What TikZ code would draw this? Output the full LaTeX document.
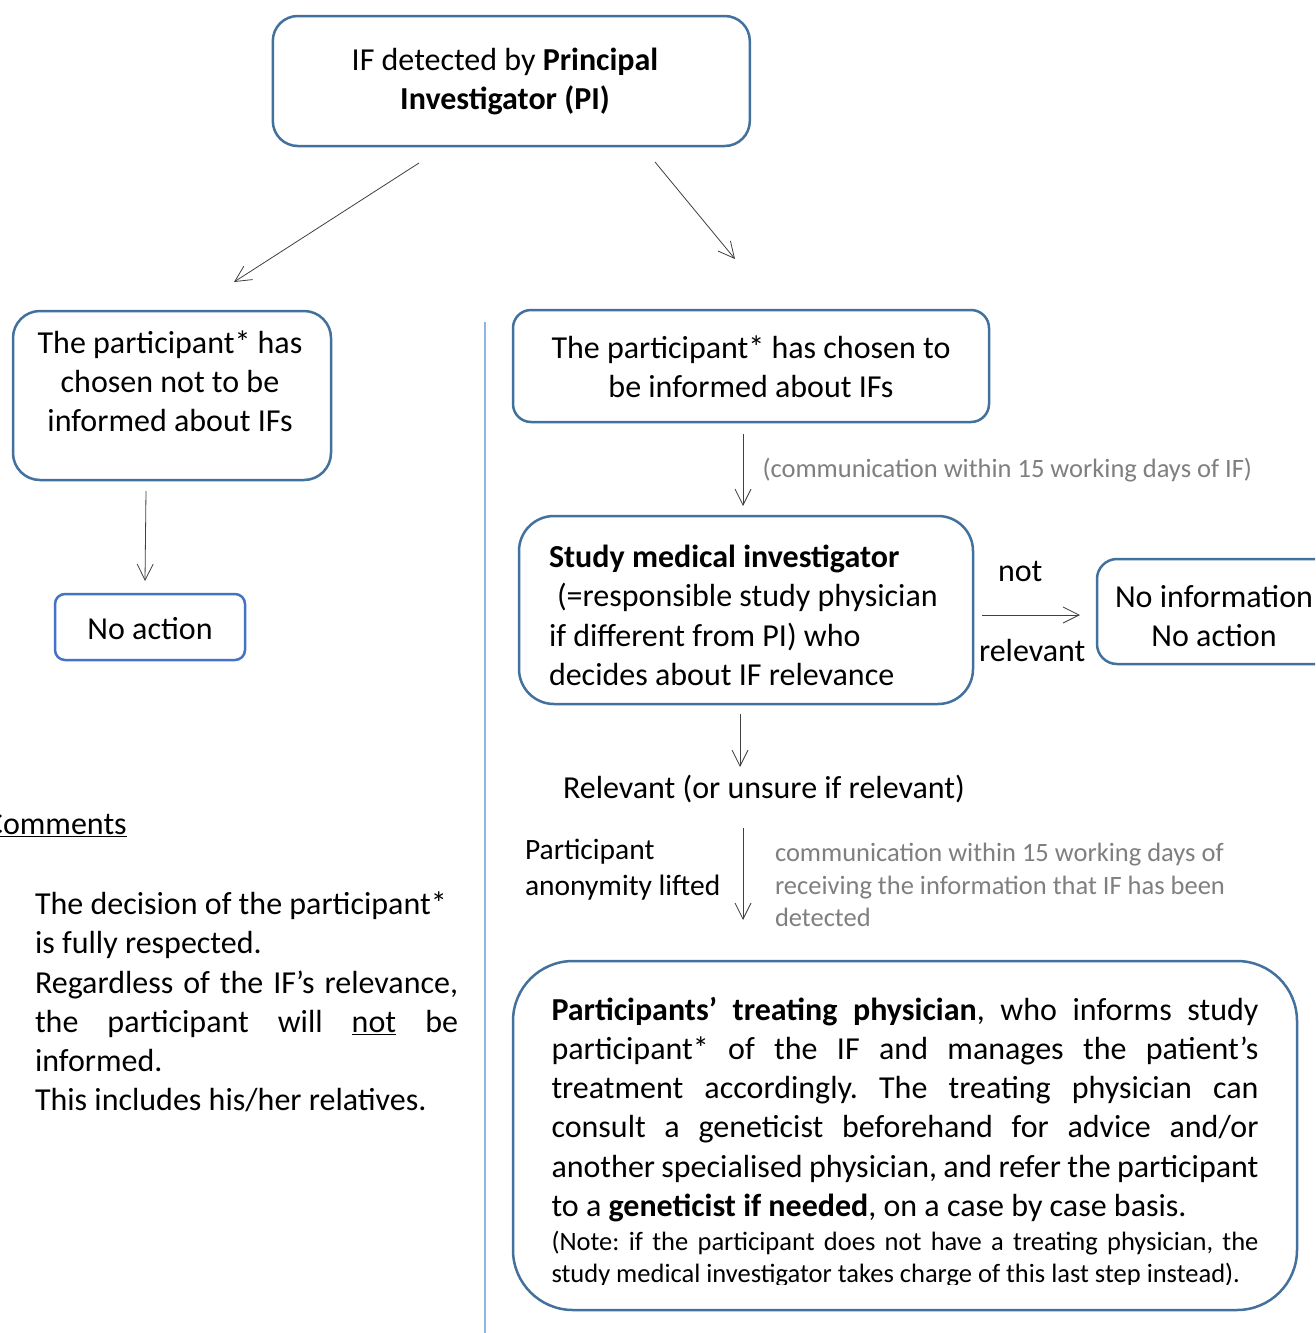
\documentclass[tikz,border=0pt]{standalone}
\usepackage{fontspec}
\setmainfont{Carlito}
\usetikzlibrary{arrows.meta}
\definecolor{boxblue}{RGB}{65,113,156}
\definecolor{brightblue}{RGB}{68,114,196}
\definecolor{sepblue}{RGB}{141,180,226}
\definecolor{commgray}{RGB}{127,127,127}
\definecolor{arrowgray}{RGB}{64,64,64}
\newcommand\fs[2]{\fontsize{#1}{#2}\selectfont}
\setlength\parindent{0pt}
\setlength\parskip{0pt}
\hyphenpenalty=10000
\exhyphenpenalty=10000
\tolerance=9999
\emergencystretch=20pt
\frenchspacing
\begin{document}
\frenchspacing
\begin{tikzpicture}[x=1pt,y=-1pt,
  box/.style={draw=boxblue, line width=2.5pt, rounded corners=#1, inner sep=0pt},
  txt/.style={inner sep=0pt, outer sep=0pt, font=\fs{32}{39.2}\frenchspacing},
  small/.style={inner sep=0pt, outer sep=0pt, font=\fs{26.5}{32.4}\frenchspacing, text=commgray},
  conn/.style={draw=arrowgray, line width=0.8pt, -{Straight Barb[length=16pt,width=16pt]}},
  sepline/.style={draw=sepblue, line width=2pt}]
\fill[white] (0,0) rectangle (1315,1333);
\clip (0,0) rectangle (1315,1333);
\useasboundingbox (0,0) rectangle (1315,1333);

% boxes
\node[box=25pt, minimum width=477pt, minimum height=130pt] (topbox) at (511.3,81) {};
\node[box=27pt, minimum width=318pt, minimum height=169pt] (leftbox) at (172,395.5) {};
\node[box=10pt, draw=brightblue, minimum width=190pt, minimum height=66pt] (noaction) at (150,627) {};
\node[box=18pt, minimum width=476pt, minimum height=112pt] (chosenbox) at (751,366) {};
\node[box=35pt, minimum width=454pt, minimum height=188pt] (studybox) at (746,610) {};
\node[box=20pt, minimum width=240pt, minimum height=105pt] (noinfobox) at (1217,611.5) {};
\node[box=60pt, minimum width=784pt, minimum height=349pt] (treatbox) at (905,1135.5) {};

% box texts
\node[txt, anchor=north, align=center] (toptxt) at (505,70.5-27.44)
  {\strut IF detected by \textbf{Principal}\\\textbf{Investigator (PI)}};
\node[txt, anchor=north, align=center] (lefttxt) at (170,353-27.44)
  {\strut The participant* has\\chosen not to be\\informed about IFs};
\node[txt, anchor=base] (noactiontxt) at (150,639) {No action};
\node[txt, anchor=north, align=center] (chosentxt) at (751,358-27.44)
  {\strut The participant* has chosen to\\be informed about IFs};
\node[txt, anchor=north west, align=left] (studytxt) at (549,567.7-27.44)
  {\strut\textbf{Study medical investigator}\\\hspace{0.25em}(=responsible study physician\\if different from PI) who\\decides about IF relevance};
\node[txt, anchor=north, align=center] (noinfotxt) at (1214,607-27.44)
  {\strut No information\\No action};

% labels
\node[small, anchor=base west] (comm1) at (762.5,477.7) {(communication within 15 working days of IF)};
\node[txt, anchor=base west] (notlbl) at (998,581.3) {not};
\node[txt, anchor=base west] (rellbl) at (979,661.3) {relevant};
\node[txt, anchor=base west] (relevant) at (563,798) {Relevant (or unsure if relevant)};
\node[inner sep=0pt, outer sep=0pt, font=\fs{29.5}{36.5}, anchor=north west, align=left] (anon) at (525,859-25.55)
  {\strut Participant\\anonymity lifted};
\node[small, anchor=north west, align=left] (comm2) at (775,861.7-22.68)
  {\strut communication within 15 working days of\\receiving the information that IF has been\\detected};

% comments
\node[txt, anchor=base west] (commhead) at (-14,834.7) {\underline{Comments}};
\node[txt, anchor=north west, text width=423pt, align=justify] (commtxt) at (35,914.7-27.44)
  {\strut The decision of the participant*\\is fully respected.\par
   Regardless of the IF’s relevance,\linebreak the participant will \underline{not} be\linebreak informed.\par
   This includes his/her relatives.};

% bottom text (clipped like the reference)
\begin{scope}
\clip (500,900) rectangle (1300,1284);
\node[txt, anchor=north west, text width=707pt, align=justify] (treattxt) at (551.5,1020.3-27.44)
  {\strut\textbf{Participants’ treating physician}, who informs study\linebreak
   participant* of the IF and manages the patient’s\linebreak
   treatment accordingly. The treating physician can\linebreak
   consult a geneticist beforehand for advice and/or\linebreak
   another specialised physician, and refer the participant\linebreak
   to a \textbf{geneticist if needed}, on a case by case basis.\par
   \vspace{2.5pt}\fs{26.5}{32}{\parfillskip=0pt \strut(Note: if the participant does not have a treating physician, the\par}
   \vspace{-8pt}study medical investigator takes charge of this last step instead).};
\end{scope}

% connectors
\coordinate (a1s) at (419,163); \coordinate (a1e) at (234,282);
\coordinate (a2s) at (655,162); \coordinate (a2e) at (735,259);
\coordinate (a3s) at (146,491); \coordinate (a3e) at (145,581);
\coordinate (a4s) at (743,434); \coordinate (a4e) at (743,506);
\coordinate (a5s) at (982,615); \coordinate (a5e) at (1080,615);
\coordinate (a6s) at (740,714); \coordinate (a6e) at (740,767);
\coordinate (a7s) at (743,828); \coordinate (a7e) at (743,920);
\draw[conn] (a1s) -- (a1e);
\draw[conn] (a2s) -- (a2e);
\draw[conn] (a3s) -- (a3e);
\draw[conn] (a4s) -- (a4e);
\draw[conn] (a5s) -- (a5e);
\draw[conn] (a6s) -- (a6e);
\draw[conn] (a7s) -- (a7e);

% separator
\coordinate (seps) at (485,322); \coordinate (sepe) at (485,1333);
\draw[sepline] (seps) -- (sepe);
\end{tikzpicture}
\end{document}
